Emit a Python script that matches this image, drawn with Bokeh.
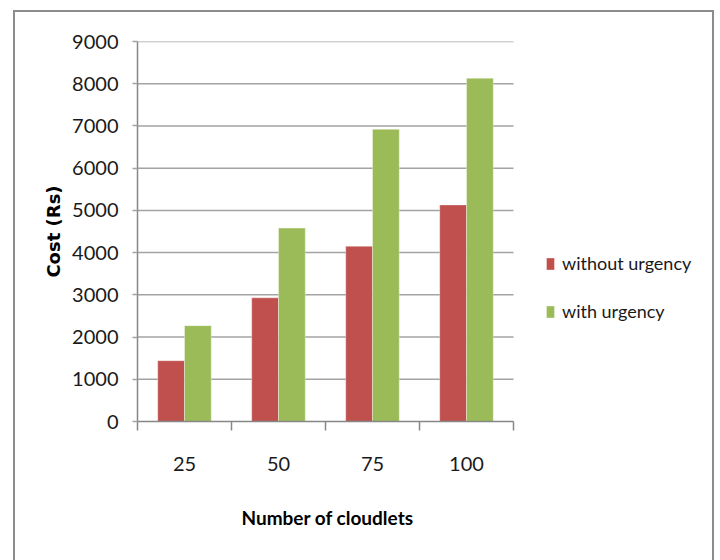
from bokeh.plotting import figure
from bokeh.models import ColumnDataSource, Range1d, FixedTicker, Legend, LegendItem, Title
from bokeh.transform import dodge
from bokeh.embed import file_html
from bokeh.resources import INLINE

# ---- data ----
categories = ["25", "50", "75", "100"]
without_urgency = [1440, 2930, 4150, 5130]
with_urgency = [2270, 4580, 6920, 8130]
y_ticks = [0, 1000, 2000, 3000, 4000, 5000, 6000, 7000, 8000, 9000]
series_names = ["without urgency", "with urgency"]
x_title = "Number of cloudlets"
y_title = "Cost (Rs)"

RED = "#C0504D"
GREEN = "#9BBB59"
AXIS = "#878787"
GRID = "#a3a3a3"
TXT_FONT = "Lato"

n = len(categories)
pos = [i + 0.5 for i in range(n)]
source = ColumnDataSource(dict(pos=pos, without=without_urgency, with_=with_urgency))
grid_src = ColumnDataSource(dict(y=y_ticks[1:], x0=[0] * (len(y_ticks) - 1),
                                 x1=[n] * (len(y_ticks) - 1)))

# frame spans the plot area plus the legend area on its right
X_END = n * 568 / 376

p = figure(width=697, height=548,
           x_range=Range1d(0, X_END), y_range=Range1d(0, 9000),
           output_backend="svg", toolbar_location=None,
           min_border_left=122, min_border_right=7,
           min_border_top=29, min_border_bottom=139,
           outline_line_color=None,
           background_fill_color="white", border_fill_color="white")
p.margin = (12, 0, 0, 15)
p.styles = {"box-shadow": "0 0 0 2px #8c8c8c"}

# horizontal gridlines limited to the category area
p.segment(x0="x0", x1="x1", y0="y", y1="y", source=grid_src,
          line_color=GRID, line_width=1.5)

bw = 0.285
r1 = p.vbar(x=dodge("pos", -bw / 2), top="without", width=bw, source=source,
            fill_color=RED, line_color="white", line_alpha=0.35, line_width=1)
r2 = p.vbar(x=dodge("pos", bw / 2), top="with_", width=bw, source=source,
            fill_color=GREEN, line_color="white", line_alpha=0.35, line_width=1)

# x axis
p.xaxis.bounds = (0, n)
p.xaxis.ticker = FixedTicker(ticks=pos, minor_ticks=list(range(n + 1)))
p.xaxis.major_label_overrides = {pos[i]: categories[i] for i in range(n)}
p.xaxis.major_tick_out = 0
p.xaxis.major_tick_in = 0
p.xaxis.minor_tick_out = 9
p.xaxis.minor_tick_in = 0
p.xaxis.minor_tick_line_color = AXIS
p.xaxis.minor_tick_line_width = 1.5
p.xaxis.axis_line_color = AXIS
p.xaxis.axis_line_width = 1.5
p.xaxis.major_label_standoff = 26
p.xaxis.major_label_text_font = TXT_FONT
p.xaxis.major_label_text_font_size = "20px"
p.xaxis.major_label_text_color = "#1a1a1a"

# x axis title, centred under the category area
xt = Title(text=x_title, align="left", offset=104, standoff=61,
           text_font=TXT_FONT, text_font_style="bold", text_font_size="19px",
           text_color="#000000")
p.add_layout(xt, "below")

# y axis
p.yaxis.ticker = FixedTicker(ticks=y_ticks)
p.yaxis.major_tick_out = 5
p.yaxis.major_tick_in = 0
p.yaxis.minor_tick_out = 0
p.yaxis.minor_tick_in = 0
p.yaxis.major_tick_line_color = GRID
p.yaxis.major_tick_line_width = 1.5
p.yaxis.axis_line_color = AXIS
p.yaxis.axis_line_width = 1.5
p.yaxis.major_label_standoff = 14
p.yaxis.major_label_text_font = TXT_FONT
p.yaxis.major_label_text_font_size = "20px"
p.yaxis.major_label_text_color = "#1a1a1a"
p.yaxis.axis_label = y_title
p.yaxis.axis_label_text_font = "DejaVu Sans"
p.yaxis.axis_label_text_font_style = "bold"
p.yaxis.axis_label_text_font_size = "18px"
p.yaxis.axis_label_text_color = "#000000"
p.yaxis.axis_label_standoff = 5

p.xgrid.visible = False
p.ygrid.visible = False

legend = Legend(items=[LegendItem(label=series_names[0], renderers=[r1]),
                       LegendItem(label=series_names[1], renderers=[r2])],
                location=(408, 99), padding=0, margin=0, spacing=26,
                glyph_width=10, glyph_height=15, label_standoff=7,
                label_text_font=TXT_FONT, label_text_font_size="18px",
                label_text_color="#1a1a1a",
                border_line_color=None, background_fill_alpha=0)
p.add_layout(legend)

open("out.html", "w").write(file_html(p, INLINE))
